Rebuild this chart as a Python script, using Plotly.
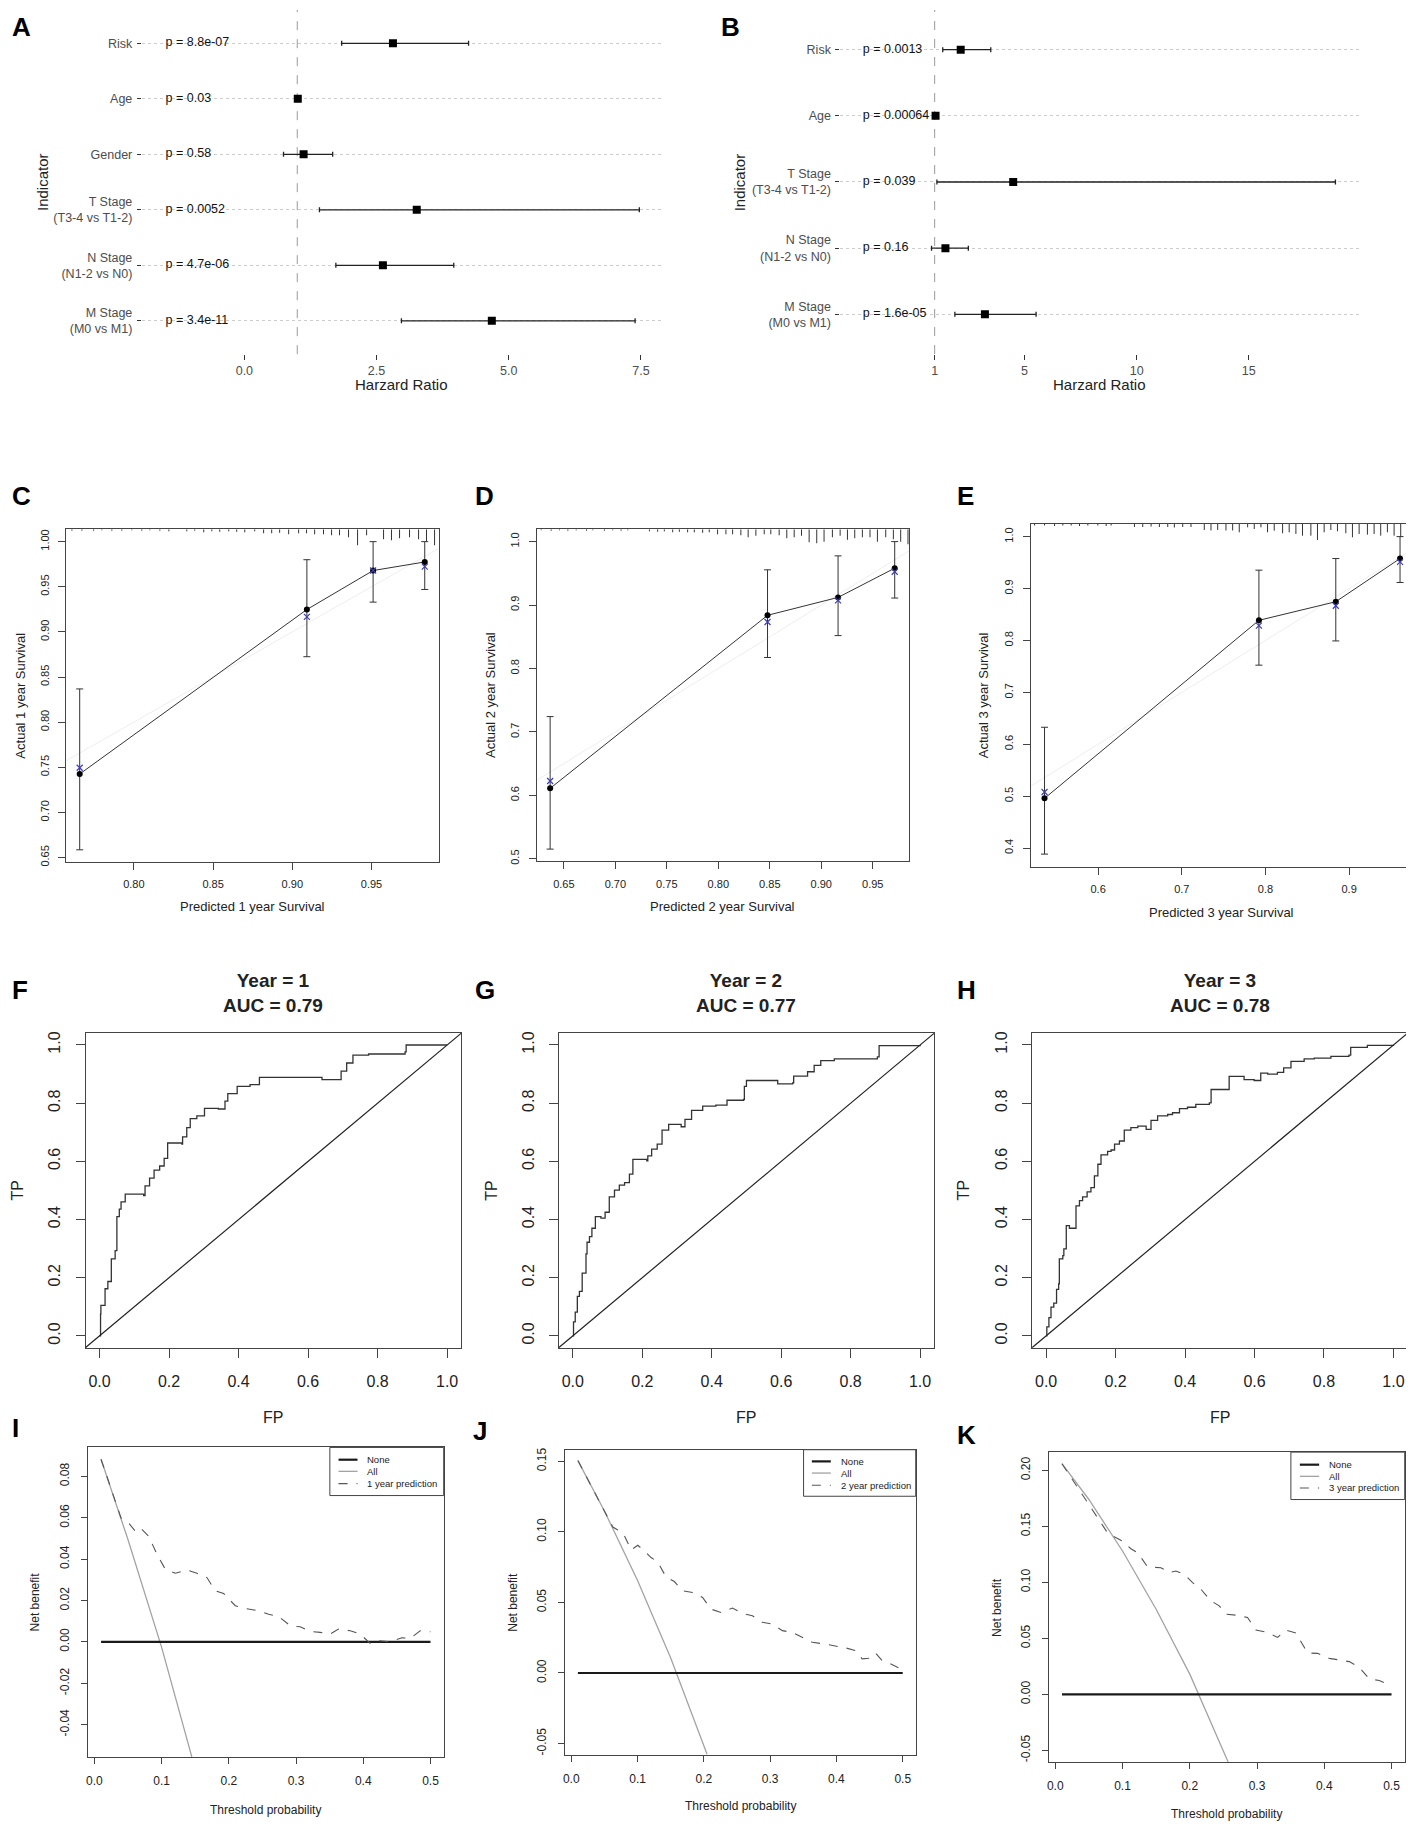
import plotly.graph_objects as go

# the page body keeps its default 8px margin, so the figure is laid out in
# reference pixel coordinates shifted by OFF
OFF = 8
W, H = 1414 - OFF, 1827 - OFF
ARIAL = "Liberation Sans, Arial, Helvetica, sans-serif"
INK = '#222222'

# ---------------- A / B : Cox forest plots ----------------
a_labels = ['Risk', 'Age', 'Gender', 'T Stage<br>(T3-4 vs T1-2)',
            'N Stage<br>(N1-2 vs N0)', 'M Stage<br>(M0 vs M1)']
a_hr = [2.81, 1.01, 1.12, 3.26, 2.62, 4.68]
a_lo = [1.84, 0.99, 0.74, 1.42, 1.73, 2.97]
a_hi = [4.24, 1.03, 1.67, 7.47, 3.96, 7.39]
a_p = ['p = 8.8e-07', 'p = 0.03', 'p = 0.58', 'p = 0.0052', 'p = 4.7e-06', 'p = 3.4e-11']
a_xticks = [0.0, 2.5, 5.0, 7.5]
a_xticklabels = ['0.0', '2.5', '5.0', '7.5']

b_labels = ['Risk', 'Age', 'T Stage<br>(T3-4 vs T1-2)',
            'N Stage<br>(N1-2 vs N0)', 'M Stage<br>(M0 vs M1)']
b_hr = [2.16, 1.04, 4.50, 1.48, 3.24]
b_lo = [1.36, 1.01, 1.10, 0.86, 1.90]
b_hi = [3.50, 1.06, 18.86, 2.50, 5.52]
b_p = ['p = 0.0013', 'p = 0.00064', 'p = 0.039', 'p = 0.16', 'p = 1.6e-05']
b_xticks = [1, 5, 10, 15]
b_xticklabels = ['1', '5', '10', '15']

# ---------------- C / D / E : calibration ----------------
c_pred = [0.7658, 0.9092, 0.9510, 0.9836]
c_obs = [0.7425, 0.9248, 0.9680, 0.9775]
c_kp = [0.7495, 0.9167, 0.9680, 0.9724]
c_lo = [0.6585, 0.8725, 0.9330, 0.9470]
c_hi = [0.8368, 0.9800, 1.0000, 1.0000]
c_rug_x = [0.7609, 0.7672, 0.7746, 0.7798, 0.7861, 0.7924, 0.7987, 0.805, 0.8101, 0.8164,
           0.8221, 0.8334, 0.8384, 0.8441, 0.8492, 0.8542, 0.8599, 0.8649, 0.87, 0.8763,
           0.8819, 0.887, 0.892, 0.8977, 0.904, 0.909, 0.9141, 0.9197, 0.9248, 0.9298,
           0.9355, 0.9412, 0.9469, 0.9576, 0.9626, 0.9677, 0.974, 0.9797, 0.9847, 0.9898]
c_rug_h = [1.5, 1.5, 1.5, 1, 1.5, 1.5, 1, 1.5, 1, 1.5,
           2, 2, 1.5, 3, 2, 2.5, 2, 2.5, 3, 2,
           4, 4, 3.5, 5, 4, 4, 5, 5, 6, 6,
           8, 16, 6, 10, 11, 9, 8, 10, 12, 16]
c_xticks = [0.80, 0.85, 0.90, 0.95]
c_yticks = [0.65, 0.70, 0.75, 0.80, 0.85, 0.90, 0.95, 1.00]

d_pred = [0.6367, 0.8478, 0.9163, 0.9713]
d_obs = [0.6110, 0.8838, 0.9120, 0.9581]
d_kp = [0.6225, 0.8733, 0.9073, 0.9524]
d_lo = [0.5152, 0.8173, 0.8518, 0.9110]
d_hi = [0.7241, 0.9555, 0.9775, 1.0000]
d_rug_x = [0.628, 0.6377, 0.6458, 0.6539, 0.662, 0.672, 0.6781, 0.6894, 0.6975, 0.7056,
           0.7121, 0.7331, 0.7411, 0.7476, 0.7557, 0.7622, 0.7702, 0.7767, 0.7848, 0.7912,
           0.7993, 0.8074, 0.8139, 0.8219, 0.829, 0.8365, 0.8446, 0.851, 0.8591, 0.8665,
           0.8737, 0.8808, 0.8882, 0.8956, 0.9027, 0.9108, 0.9183, 0.9254, 0.9325, 0.9399,
           0.9473, 0.9545, 0.9626, 0.97, 0.9771, 0.9842]
d_rug_h = [1, 1.5, 1, 1.5, 1, 1.5, 1, 1.5, 1, 1.5,
           1, 2, 2.5, 2, 3, 2.5, 3, 3, 3.5, 3,
           5, 5, 5, 6, 8, 6.5, 5, 5, 6, 9,
           8, 6.5, 13, 14, 12.5, 8, 6.5, 10.5, 9, 8,
           8, 12.5, 8, 10, 12.5, 15]
d_xticks = [0.65, 0.70, 0.75, 0.80, 0.85, 0.90, 0.95]
d_yticks = [0.5, 0.6, 0.7, 0.8, 0.9, 1.0]

e_pred = [0.5359, 0.7922, 0.8841, 0.9609]
e_obs = [0.4958, 0.8388, 0.8746, 0.9578]
e_kp = [0.5080, 0.8285, 0.8669, 0.9514]
e_lo = [0.3884, 0.7524, 0.7991, 0.9117]
e_hi = [0.6328, 0.9354, 0.9578, 1.0000]
e_rug_x = [0.524, 0.5359, 0.5479, 0.5578, 0.5678, 0.5777, 0.5877, 0.5996, 0.6096, 0.6155,
           0.6434, 0.6533, 0.6633, 0.6732, 0.6832, 0.6911, 0.7011, 0.711,
           0.7269, 0.7349, 0.7429, 0.7528, 0.7608,
           0.7687, 0.7787, 0.7866, 0.7946, 0.8025, 0.8105, 0.8205, 0.8284, 0.8364, 0.8443,
           0.8543, 0.8622, 0.8702, 0.8782, 0.8861, 0.8961, 0.904, 0.912, 0.9219, 0.9299,
           0.9378, 0.9458, 0.9538, 0.9617, 0.9717]
e_rug_h = [1.5, 1.5, 2, 1.5, 1.5, 2, 1.5, 1.5, 2, 1.5,
           3, 3, 2.5, 3, 3, 3.5, 3, 3,
           6, 6.5, 6, 6.5, 6.5,
           8.3, 3.3, 5, 3.3, 8.3, 6.7, 9.3, 8.3, 10, 11.7,
           11.7, 16, 8.3, 6, 7.3, 9.3, 13.3, 10, 10.7, 10,
           11.7, 8.3, 11.7, 12.7, 11.7]
e_xticks = [0.6, 0.7, 0.8, 0.9]
e_yticks = [0.4, 0.5, 0.6, 0.7, 0.8, 0.9, 1.0]

# ---------------- F / G / H : time-dependent ROC ----------------
f_fp = [0, 0.003, 0.004, 0.016, 0.024, 0.034, 0.045, 0.050, 0.057, 0.062,
        0.074, 0.127, 0.131, 0.144, 0.157, 0.173, 0.186, 0.196, 0.237, 0.239,
        0.251, 0.261, 0.280, 0.302, 0.342, 0.361, 0.369, 0.396, 0.433, 0.460,
        0.515, 0.640, 0.692, 0.695, 0.711, 0.729, 0.774, 0.879, 0.882, 1.0]
f_tp = [0, 0.076, 0.105, 0.162, 0.187, 0.265, 0.293, 0.410, 0.436, 0.461,
        0.487, 0.482, 0.516, 0.542, 0.570, 0.584, 0.610, 0.663, 0.659, 0.684,
        0.716, 0.747, 0.756, 0.782, 0.780, 0.807, 0.833, 0.858, 0.864, 0.889,
        0.889, 0.881, 0.881, 0.910, 0.938, 0.965, 0.969, 0.976, 1.0, 1.0]

g_fp = [0, 0.002, 0.007, 0.013, 0.019, 0.027, 0.038, 0.041, 0.048, 0.055,
        0.065, 0.081, 0.093, 0.105, 0.120, 0.134, 0.149, 0.163, 0.173, 0.213,
        0.216, 0.227, 0.243, 0.257, 0.276, 0.312, 0.323, 0.342, 0.374, 0.412,
        0.444, 0.492, 0.494, 0.500, 0.590, 0.633, 0.636, 0.676, 0.695, 0.714,
        0.753, 0.877, 0.882, 1.0]
g_tp = [0, 0.048, 0.082, 0.136, 0.153, 0.216, 0.282, 0.322, 0.341, 0.370,
        0.410, 0.405, 0.425, 0.478, 0.501, 0.518, 0.527, 0.556, 0.607, 0.602,
        0.619, 0.642, 0.659, 0.707, 0.727, 0.719, 0.744, 0.775, 0.790, 0.793,
        0.810, 0.813, 0.858, 0.878, 0.866, 0.870, 0.893, 0.908, 0.930, 0.946,
        0.952, 0.959, 0.998, 1.0]

h_fp = [0, 0.002, 0.008, 0.014, 0.022, 0.030, 0.036, 0.038, 0.048, 0.051,
        0.058, 0.067, 0.080, 0.086, 0.096, 0.105, 0.118, 0.129, 0.139, 0.149,
        0.158, 0.173, 0.177, 0.187, 0.197, 0.211, 0.225, 0.244, 0.264, 0.288,
        0.302, 0.321, 0.350, 0.364, 0.384, 0.407, 0.431, 0.470, 0.475, 0.503,
        0.527, 0.570, 0.599, 0.618, 0.638, 0.666, 0.684, 0.705, 0.743, 0.772,
        0.820, 0.872, 0.877, 0.925, 1.0]
h_tp = [0, 0.031, 0.063, 0.099, 0.113, 0.160, 0.179, 0.265, 0.276, 0.299,
        0.379, 0.370, 0.370, 0.447, 0.465, 0.478, 0.495, 0.510, 0.550, 0.590,
        0.622, 0.622, 0.634, 0.639, 0.659, 0.670, 0.707, 0.716, 0.721, 0.710,
        0.741, 0.756, 0.761, 0.767, 0.781, 0.786, 0.796, 0.801, 0.847, 0.847,
        0.892, 0.881, 0.878, 0.903, 0.900, 0.906, 0.921, 0.944, 0.952, 0.955,
        0.961, 0.965, 0.992, 0.999, 1.0]
roc_ticks = [0.0, 0.2, 0.4, 0.6, 0.8, 1.0]

# ---------------- I / J / K : decision curves ----------------
dca_none_x = [0.01, 0.5]
dca_none_y = [0.0, 0.0]
dca_xticks = [0.0, 0.1, 0.2, 0.3, 0.4, 0.5]

i_all_x = [0.01, 0.05, 0.10, 0.145]
i_all_y = [0.0883, 0.0495, -0.0025, -0.0556]
i_pred_x = [0.0099, 0.0396, 0.05, 0.061, 0.0684, 0.0808, 0.0932, 0.1056, 0.1204, 0.1378,
            0.1526, 0.1675, 0.1799, 0.1923, 0.2096, 0.2245, 0.2443, 0.2592, 0.274, 0.2914,
            0.3062, 0.3211, 0.336, 0.3508, 0.3632, 0.3806, 0.3954, 0.4103, 0.4227, 0.44,
            0.4574, 0.4698, 0.4846, 0.5]
i_pred_y = [0.0883, 0.06, 0.0579, 0.0535, 0.0551, 0.0511, 0.0423, 0.0351, 0.0332, 0.0348,
            0.0332, 0.0311, 0.0247, 0.0234, 0.0175, 0.0162, 0.015, 0.0134, 0.0123, 0.0078,
            0.0073, 0.0051, 0.0046, 0.0038, 0.0062, 0.0054, 0.0038, -0.0007, 0.0006, 0.0001,
            0.002, 0.0017, 0.0054, 0.0049]
i_yticks = [-0.04, -0.02, 0.00, 0.02, 0.04, 0.06, 0.08]

j_all_x = [0.01, 0.05, 0.10, 0.15, 0.205]
j_all_y = [0.1505, 0.1148, 0.0656, 0.0106, -0.0578]
j_pred_x = [0.01, 0.0627, 0.0702, 0.0792, 0.0903, 0.1003, 0.1103, 0.1204, 0.1304, 0.1429,
            0.1555, 0.168, 0.183, 0.1981, 0.2106, 0.2257, 0.2432, 0.2583, 0.2733, 0.2884,
            0.3034, 0.3185, 0.3335, 0.3485, 0.3636, 0.3811, 0.3962, 0.4137, 0.4288, 0.4388,
            0.4488, 0.4589, 0.4689, 0.4814, 0.499]
j_pred_y = [0.1505, 0.1034, 0.1013, 0.0982, 0.0872, 0.0905, 0.0865, 0.0818, 0.0787, 0.0681,
            0.0648, 0.0582, 0.0571, 0.0535, 0.0453, 0.0429, 0.046, 0.0422, 0.0406, 0.0359,
            0.0347, 0.03, 0.0288, 0.0253, 0.0218, 0.0206, 0.0194, 0.0178, 0.0159, 0.01,
            0.0105, 0.0142, 0.0088, 0.0065, 0.0025]
j_yticks = [-0.05, 0.00, 0.05, 0.10, 0.15]

k_all_x = [0.01, 0.05, 0.10, 0.15, 0.20, 0.257]
k_all_y = [0.206, 0.174, 0.128, 0.076, 0.018, -0.0604]
k_pred_x = [0.0099, 0.0778, 0.0877, 0.1001, 0.1125, 0.1224, 0.1373, 0.1571, 0.1695, 0.1794,
            0.1918, 0.2042, 0.2166, 0.2314, 0.2438, 0.2537, 0.2686, 0.2859, 0.2983, 0.3157,
            0.3305, 0.3429, 0.3578, 0.3751, 0.39, 0.4073, 0.4222, 0.4371, 0.4519, 0.4668,
            0.4817, 0.499]
k_pred_y = [0.2059, 0.1442, 0.1407, 0.1368, 0.13, 0.1265, 0.1137, 0.1131, 0.1087, 0.1101,
            0.1072, 0.0998, 0.0938, 0.0835, 0.079, 0.0716, 0.0707, 0.0686, 0.0574, 0.0553,
            0.0508, 0.0574, 0.0547, 0.0369, 0.0366, 0.0321, 0.0307, 0.0292, 0.0241, 0.0138,
            0.0123, 0.0078]
k_yticks = [-0.05, 0.00, 0.05, 0.10, 0.15, 0.20]


fig = go.Figure()
annotations = []
shapes = []


def fx(px):
    return min(max((px - OFF) / W, 0.0), 1.0)


def fy(px):
    return min(max(1 - (px - OFF) / H, 0.0), 1.0)


def aid(n):
    return '' if n == 1 else str(n)


def set_axes(n, box, xr, yr, xa, ya):
    left, right, top, bottom = box
    s = aid(n)
    fig.update_layout(**{
        'xaxis' + s: dict(domain=[fx(left), fx(right)], range=xr, anchor='y' + s, **xa),
        'yaxis' + s: dict(domain=[fy(bottom), fy(top)], range=yr, anchor='x' + s, **ya),
    })


def r_axis(vals, fmt, size, standoff, ticklen, angle=0):
    return dict(tickvals=vals, ticktext=[fmt.format(v) for v in vals],
                showline=True, mirror=True, linecolor='#444', linewidth=1,
                ticks='outside', ticklen=ticklen, tickcolor='#444', tickwidth=1,
                tickfont=dict(family=ARIAL, size=size, color=INK),
                showgrid=False, zeroline=False, tickangle=angle,
                ticklabelstandoff=standoff)


def gg_x(vals, labels):
    return dict(tickvals=vals, ticktext=labels, showline=False, showgrid=False,
                zeroline=False, ticks='outside', ticklen=5, tickcolor='#333',
                tickfont=dict(family=ARIAL, size=12.5, color='#4d4d4d'),
                ticklabelstandoff=0)


def gg_y(labels):
    return dict(tickvals=list(range(1, len(labels) + 1)), ticktext=labels,
                showgrid=True, griddash='dot', gridcolor='#cccccc', gridwidth=1,
                showline=False, zeroline=False, ticks='outside', ticklen=4,
                tickcolor='#333', tickfont=dict(family=ARIAL, size=12.5, color='#4d4d4d'),
                ticklabelstandoff=2)


def text(x, y, t, size, angle=0, xanchor='center', color=INK, yanchor='middle'):
    annotations.append(dict(x=fx(x), y=fy(y), xref='paper', yref='paper', text=t,
                            showarrow=False, xanchor=xanchor, yanchor=yanchor,
                            textangle=angle, font=dict(family=ARIAL, size=size, color=color)))


def forest(n, box, xr, labels, hr, lo, hi, pvals, p_x, xt, xtl, ytitle_x):
    s = aid(n)
    rows = list(range(1, len(labels) + 1))
    set_axes(n, box, xr, [len(labels) + 0.6, 0.4], gg_x(xt, xtl), gg_y(labels))
    shapes.append(dict(type='line', xref='x' + s, yref='y' + s + ' domain',
                       x0=1, x1=1, y0=0, y1=1, layer='below',
                       line=dict(color='#9a9a9a', width=1, dash='dash')))
    fig.add_trace(go.Scatter(
        x=hr, y=rows, mode='markers', xaxis='x' + s, yaxis='y' + s,
        marker=dict(symbol='square', size=8, color='black'),
        error_x=dict(type='data', symmetric=False,
                     array=[h - m for h, m in zip(hi, hr)],
                     arrayminus=[m - l for m, l in zip(hr, lo)],
                     color=INK, thickness=1.3, width=2.5)))
    fig.add_trace(go.Scatter(
        x=[p_x] * len(rows), y=rows, mode='text', text=pvals,
        textposition='middle right', xaxis='x' + s, yaxis='y' + s,
        textfont=dict(family=ARIAL, size=12.5, color='#111')))
    left, right, top, bottom = box
    text((left + right) / 2, 384, 'Harzard Ratio', 15)
    text(ytitle_x, (top + bottom) / 2, 'Indicator', 15, angle=-90)


def calib(n, box, xr, yr, xt, xfmt, yt, yfmt, pred, obs, kp, lo, hi, rug_x, rug_h,
          year, ytitle_x, xtitle_y):
    s = aid(n)
    left, right, top, bottom = box
    set_axes(n, box, xr, yr, r_axis(xt, xfmt, 11, 5, 7), r_axis(yt, yfmt, 11, 5, 7, -90))
    shapes.append(dict(type='line', xref='x' + s, yref='y' + s, x0=xr[0], y0=xr[0],
                       x1=xr[1], y1=xr[1], layer='below',
                       line=dict(color='#eeeeee', width=1)))
    per_px = (yr[1] - yr[0]) / (bottom - top)
    rx, ry = [], []
    for x, h in zip(rug_x, rug_h):
        rx += [x, x, None]
        ry += [yr[1], yr[1] - h * per_px, None]
    fig.add_trace(go.Scatter(x=rx, y=ry, mode='lines', xaxis='x' + s, yaxis='y' + s,
                             line=dict(color='#333', width=1)))
    fig.add_trace(go.Scatter(
        x=pred, y=obs, mode='lines+markers', xaxis='x' + s, yaxis='y' + s,
        line=dict(color='#333', width=1), marker=dict(color='black', size=6),
        error_y=dict(type='data', symmetric=False,
                     array=[h - o for h, o in zip(hi, obs)],
                     arrayminus=[o - l for o, l in zip(obs, lo)],
                     color='#333', thickness=1, width=3.5)))
    fig.add_trace(go.Scatter(
        x=pred, y=kp, mode='markers', xaxis='x' + s, yaxis='y' + s,
        marker=dict(symbol='x-thin', size=6, color='#3d3db8',
                    line=dict(color='#3d3db8', width=1.2))))
    text((left + right) / 2, xtitle_y, f'Predicted {year} year Survival', 13)
    text(ytitle_x, (top + bottom) / 2, f'Actual {year} year Survival', 13, angle=-90)


def roc(n, box, fp, tp, year, auc, ytitle_x):
    s = aid(n)
    left, right, top, bottom = box
    set_axes(n, box, [-0.04, 1.04], [-0.04, 1.04],
             r_axis(roc_ticks, '{:.1f}', 16, 10, 9), r_axis(roc_ticks, '{:.1f}', 16, 9, 9, -90))
    shapes.append(dict(type='line', xref='x' + s + ' domain', yref='y' + s + ' domain',
                       x0=0, y0=0, x1=1, y1=1, line=dict(color='#222', width=1.2)))
    fig.add_trace(go.Scatter(x=fp, y=tp, mode='lines', line_shape='hv',
                             xaxis='x' + s, yaxis='y' + s,
                             line=dict(color='#333', width=1.3)))
    text((left + right) / 2, 995, f'<b>Year = {year}<br>AUC = {auc}</b>', 19)
    text((left + right) / 2, 1421, 'FP', 16)
    text(ytitle_x, (top + bottom) / 2, 'TP', 16, angle=-90)


def dca(n, box, yr, yt, all_x, all_y, pred_x, pred_y, year, legend, ytitle_x, xtitle_y):
    s = aid(n)
    left, right, top, bottom = box
    set_axes(n, box, [-0.0096, 0.5196], yr,
             r_axis(dca_xticks, '{:.1f}', 12, 7, 6), r_axis(yt, '{:.2f}', 12, 7, 6, -90))
    fig.add_trace(go.Scatter(x=all_x, y=all_y, mode='lines', xaxis='x' + s, yaxis='y' + s,
                             line=dict(color='#a3a3a3', width=1.3)))
    fig.add_trace(go.Scatter(x=dca_none_x, y=dca_none_y, mode='lines', xaxis='x' + s,
                             yaxis='y' + s, line=dict(color='#1a1a1a', width=2.2)))
    fig.add_trace(go.Scatter(x=pred_x, y=pred_y, mode='lines', xaxis='x' + s, yaxis='y' + s,
                             line=dict(color='#555', width=1.1, dash='dash')))
    text((left + right) / 2, xtitle_y, 'Threshold probability', 12)
    text(ytitle_x, (top + bottom) / 2, 'Net benefit', 12, angle=-90)
    # legend box in the top right corner
    lx0, lx1, ly0, ly1, rows, line_x0, line_x1, tx = legend
    shapes.append(dict(type='rect', xref='paper', yref='paper', x0=fx(lx0), x1=fx(lx1),
                       y0=fy(ly1), y1=fy(ly0), line=dict(color='#444', width=1),
                       fillcolor='white'))
    styles = [dict(color='#1a1a1a', width=2.2), dict(color='#a3a3a3', width=1.3),
              dict(color='#555', width=1.1, dash='dash')]
    names = ['None', 'All', f'{year} year prediction']
    for ry, st, nm in zip(rows, styles, names):
        shapes.append(dict(type='line', xref='paper', yref='paper', x0=fx(line_x0),
                           x1=fx(line_x1), y0=fy(ry), y1=fy(ry), line=st))
        text(tx, ry, nm, 9.5, xanchor='left')


forest(1, (140, 661, 8, 353.5), [-1.94, 7.9], a_labels, a_hr, a_lo, a_hi, a_p, -1.49,
       a_xticks, a_xticklabels, 40)
forest(2, (839.6, 1358.7, 8, 353.3), [-3.2, 19.9], b_labels, b_hr, b_lo, b_hi, b_p, -2.2,
       b_xticks, b_xticklabels, 739.4)

calib(3, (64.3, 437.3, 529.3, 863.3), [0.7573, 0.9924], [0.645, 1.0137],
      c_xticks, '{:.2f}', c_yticks, '{:.2f}', c_pred, c_obs, c_kp, c_lo, c_hi,
      c_rug_x, c_rug_h, 1, 19, 907.7)
calib(4, (535.3, 908.3, 529.3, 862.7), [0.6235, 0.9852], [0.4958, 1.0194],
      d_xticks, '{:.2f}', d_yticks, '{:.1f}', d_pred, d_obs, d_kp, d_lo, d_hi,
      d_rug_x, d_rug_h, 2, 489.3, 907.7)
calib(5, (1030, 1412, 524, 868), [0.5192, 0.9752], [0.3642, 1.0243],
      e_xticks, '{:.1f}', e_yticks, '{:.1f}', e_pred, e_obs, e_kp, e_lo, e_hi,
      e_rug_x, e_rug_h, 3, 982.3, 914.3)

roc(6, (83.7, 459.7, 1035.3, 1350.7), f_fp, f_tp, 1, '0.79', 15)
roc(7, (557.7, 933.3, 1035.3, 1350.7), g_fp, g_tp, 2, '0.77', 490)
roc(8, (1031.7, 1407.3, 1035.3, 1350.7), h_fp, h_tp, 3, '0.78', 962.3)

dca(9, (86, 442.3, 1451, 1761.7), [-0.0556, 0.094], i_yticks, i_all_x, i_all_y,
    i_pred_x, i_pred_y, 1,
    (328.3, 442.3, 1451, 1499.3, (1463.3, 1475, 1487.3), 337, 356, 364), 33.3, 1815)
dca(10, (563.7, 915, 1453.3, 1759.3), [-0.0578, 0.1582], j_yticks, j_all_x, j_all_y,
    j_pred_x, j_pred_y, 2,
    (802.7, 915, 1453.3, 1500, (1465, 1476.7, 1489), 811, 830, 838.3), 512.3, 1811)
dca(11, (1048.3, 1404.7, 1455.7, 1766.7), [-0.0604, 0.2163], k_yticks, k_all_x, k_all_y,
    k_pred_x, k_pred_y, 3,
    (1290.7, 1404.7, 1455.7, 1503.3, (1468.3, 1480, 1491.7), 1299.7, 1319, 1327.3), 996.3, 1819)

# panel letters
text(7, 8, '<b>A</b>', 26, xanchor='left', color='black', yanchor='top')
text(718, 8, '<b>B</b>', 26, xanchor='left', color='black', yanchor='top')
for letter, x, y in [('C', 7, 496), ('D', 472, 496), ('E', 954, 496), ('F', 7, 992),
                     ('G', 472, 992), ('H', 954, 992), ('I', 7, 1431), ('J', 470, 1434),
                     ('K', 954, 1439)]:
    text(x, y, f'<b>{letter}</b>', 26, xanchor='left', color='black')

fig.update_layout(
    width=W, height=H, margin=dict(l=0, r=0, t=0, b=0),
    paper_bgcolor='white', plot_bgcolor='white', showlegend=False,
    annotations=annotations, shapes=shapes,
)
fig.write_html("out.html")
